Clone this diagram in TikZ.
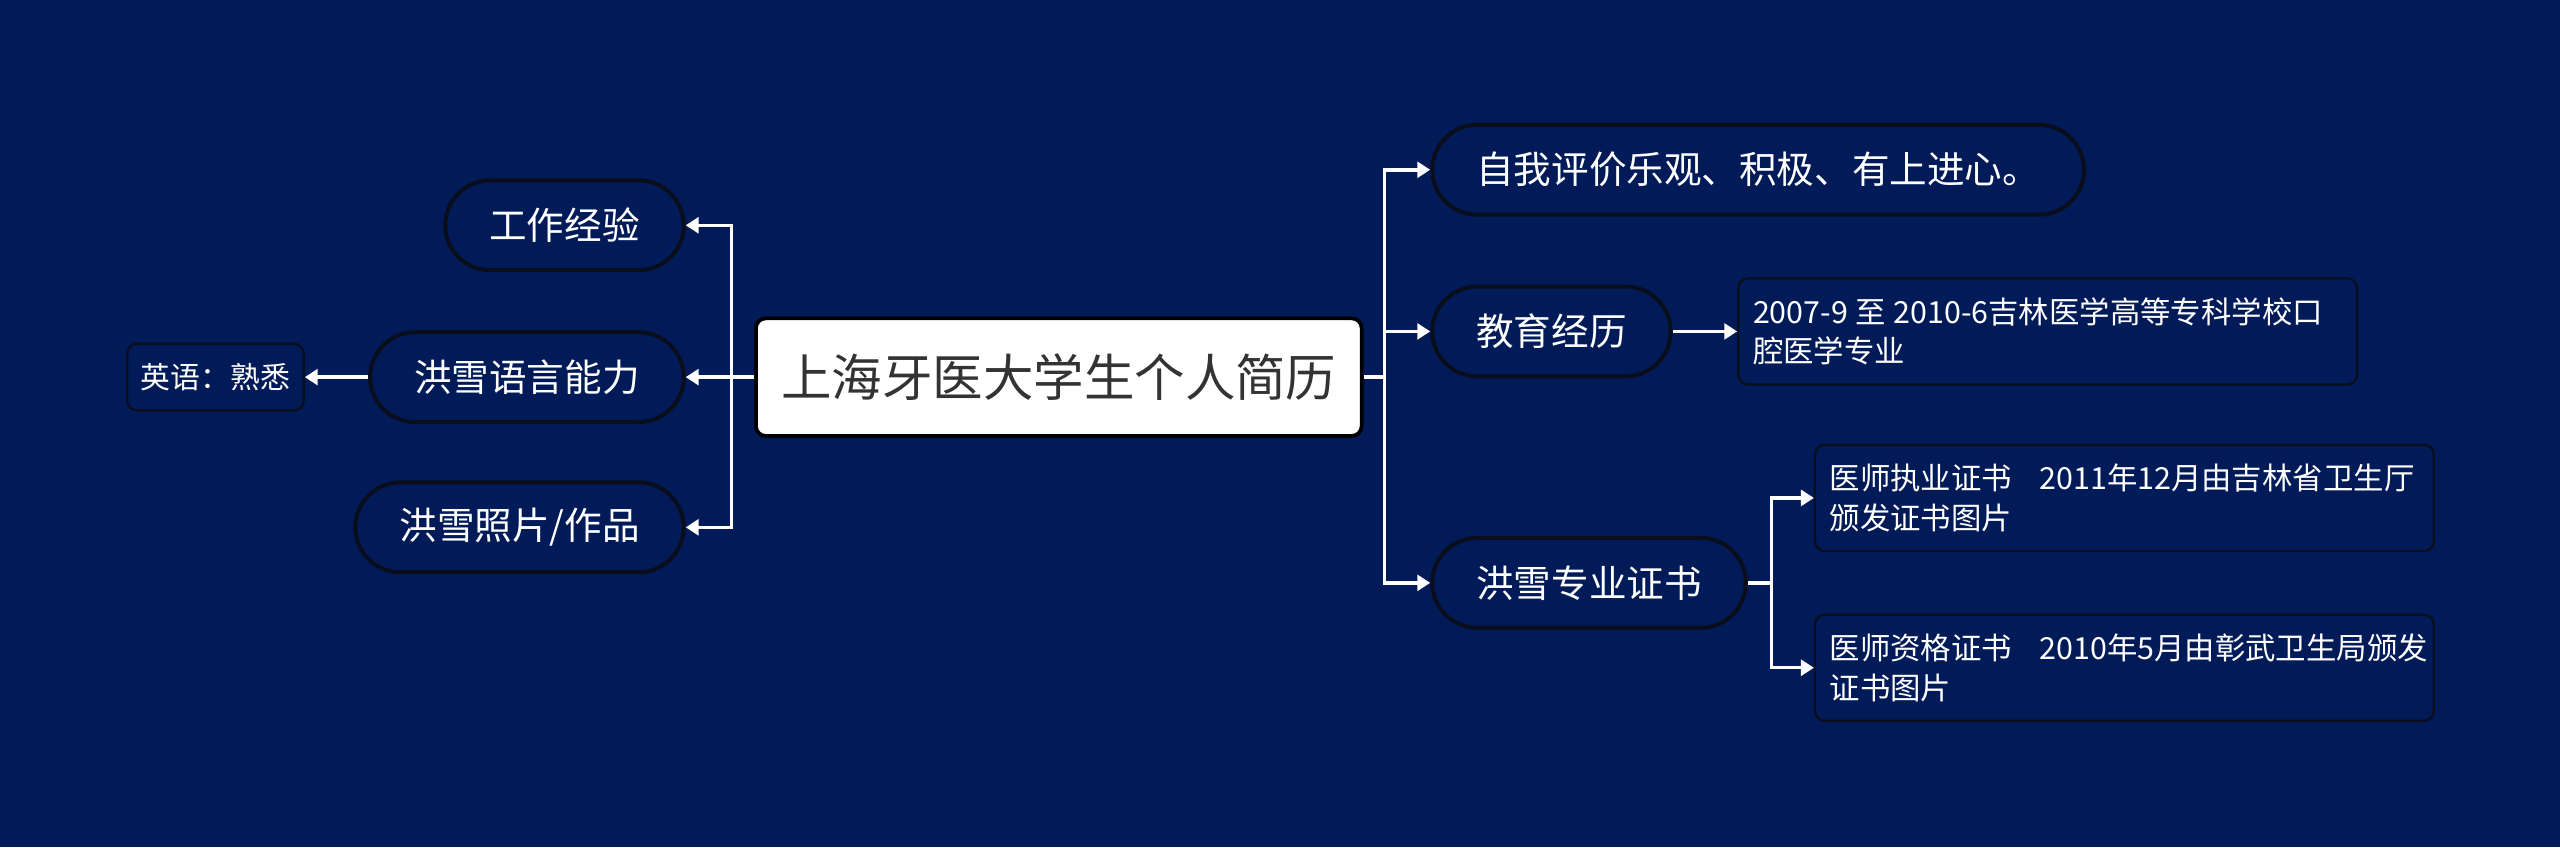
\documentclass[tikz,border=0pt]{standalone}
\usepackage{fontspec}
\setmainfont{Noto Sans CJK SC}
\usetikzlibrary{arrows.meta}
\definecolor{bgnavy}{HTML}{001B58}
\definecolor{edgedark}{HTML}{0A0E1C}
\definecolor{roottext}{HTML}{333333}
\tikzset{
  pill/.style={draw=edgedark, line width=1.4pt, fill=bgnavy, text=white,
    rounded corners={27.5*0.02cm}, minimum height={55*0.02cm}, inner xsep={27*0.02cm}, inner ysep=0pt,
    font=\fontsize{13.1pt}{15pt}\selectfont},
  rootbox/.style={draw=black, line width=1.3pt, fill=white, text=roottext,
    rounded corners={6*0.02cm}, minimum width={371*0.02cm}, minimum height={72*0.02cm}, inner sep=0pt,
    font=\fontsize{17.6pt}{20pt}\selectfont},
  leafbox/.style={draw=edgedark, line width=0.8pt, fill=bgnavy, text=white,
    rounded corners={6*0.02cm}, minimum height={65*0.02cm}, inner xsep={9*0.02cm}, inner ysep=0pt,
    align=left, font=\fontsize{10.6pt}{13.8pt}\selectfont},
  smallbox/.style={draw=edgedark, line width=0.8pt, fill=bgnavy, text=white,
    rounded corners={6*0.02cm}, minimum width={108*0.02cm}, minimum height={41*0.02cm}, inner sep=0pt,
    font=\fontsize{10.4pt}{12pt}\selectfont},
  conn/.style={draw=white, line width=1.2pt},
  arr/.style={conn, -{Triangle[length=4.5pt,width=5.5pt]}},
}
\begin{document}
\begin{tikzpicture}[x=0.02cm, y=-0.02cm]
\fill[bgnavy] (0,0) rectangle (1568,519);
\useasboundingbox (0,0) rectangle (1568,519);

% root
\node[rootbox] (root) at (648.5,231) {上海牙医大学生个人简历};

% right branch
\node[pill, anchor=west] (self) at (876,104) {自我评价乐观、积极、有上进心。};
\node[pill, anchor=west] (edu) at (876,203) {教育经历};
\node[pill, anchor=west] (cert) at (876,357) {洪雪专业证书};

\node[leafbox, anchor=west, minimum width={379*0.02cm}, text width={361*0.02cm}] (eduleaf) at (1064,203)
  {2007-9\kern0.25em 至\kern0.25em 2010-6吉林医学高等专科学校口\\腔医学专业};
\node[leafbox, anchor=west, minimum width={379*0.02cm}, text width={361*0.02cm}] (lic1) at (1111,305)
  {医师执业证书\kern0.9em 2011年12月由吉林省卫生厅\\颁发证书图片};
\node[leafbox, anchor=west, minimum width={379*0.02cm}, text width={361*0.02cm}] (lic2) at (1111,409)
  {医师资格证书\kern0.9em 2010年5月由彰武卫生局颁发\\证书图片};

% left branch
\node[pill, anchor=east] (work) at (420,138) {工作经验};
\node[pill, anchor=east] (lang) at (420,231) {洪雪语言能力};
\node[pill, anchor=east] (photo) at (420,323) {洪雪照片/作品};
\node[smallbox] (eng) at (132,231) {英语：熟悉};

% junctions
\coordinate (jR) at (848,231);
\coordinate (jL) at (448,231);
\coordinate (jC) at (1085,357);

% connectors right
\draw[conn] (root.east) -- (jR);
\draw[arr] (jR) |- (self.west);
\draw[arr] (jR) |- (edu.west);
\draw[arr] (jR) |- (cert.west);
\draw[arr] (edu.east) -- (eduleaf.west);
\draw[conn] (cert.east) -- (jC);
\draw[arr] (jC) |- (lic1.west);
\draw[arr] (jC) |- (lic2.west);

% connectors left
\draw[conn] (root.west) -- (jL);
\draw[arr] (jL) |- (work.east);
\draw[arr] (jL) |- (lang.east);
\draw[arr] (jL) |- (photo.east);
\draw[arr] (lang.west) -- (eng.east);
\end{tikzpicture}
\end{document}
